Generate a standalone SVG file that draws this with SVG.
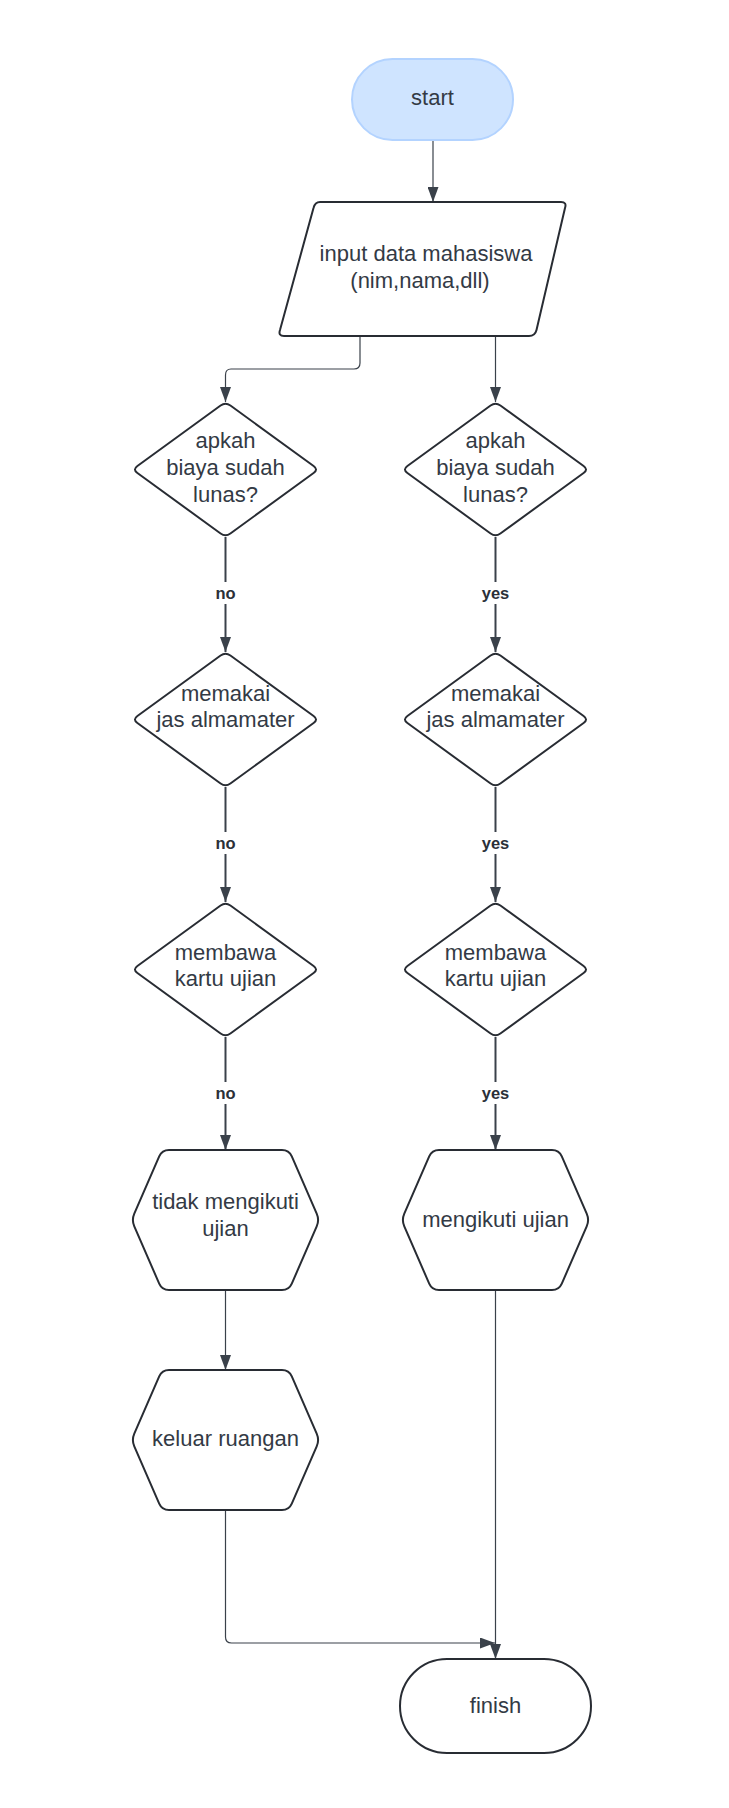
<svg xmlns="http://www.w3.org/2000/svg" width="729" height="1808" viewBox="0 0 729 1808">
<style>
.shape{fill:#ffffff;stroke:#282c33;stroke-width:2;stroke-linejoin:round}
.t{font-family:"Liberation Sans",Arial,sans-serif;font-size:22px;fill:#333a45;text-anchor:middle}
.lbl{font-family:"Liberation Sans",Arial,sans-serif;font-size:16.5px;font-weight:bold;fill:#2b3038;text-anchor:middle}
.c{fill:none;stroke:#3a414a;stroke-width:2}
.c1{fill:none;stroke:#3a414a;stroke-width:1.2}
</style>
<defs>
<marker id="ah" viewBox="0 0 15 11" refX="15" refY="5.5" markerWidth="15" markerHeight="11" markerUnits="userSpaceOnUse" orient="auto">
<path d="M0,0 L15,5.5 L0,11 Z" fill="#3a414a"/>
</marker>
</defs>
<rect width="729" height="1808" fill="#ffffff"/>
<g id="connectors">
<path class="c1" d="M433,140 V202" marker-end="url(#ah)"/>
<path class="c1" d="M360,336 V363 Q360,369 354,369 H231 Q225.5,369 225.5,375 V402" marker-end="url(#ah)"/>
<path class="c1" d="M495.5,336 V402" marker-end="url(#ah)"/>
<path class="c" d="M225.5,537 V652" marker-end="url(#ah)"/>
<path class="c" d="M495.5,537 V652" marker-end="url(#ah)"/>
<path class="c" d="M225.5,787 V902" marker-end="url(#ah)"/>
<path class="c" d="M495.5,787 V902" marker-end="url(#ah)"/>
<path class="c" d="M225.5,1037 V1150" marker-end="url(#ah)"/>
<path class="c" d="M495.5,1037 V1150" marker-end="url(#ah)"/>
<path class="c1" d="M225.5,1290 V1370" marker-end="url(#ah)"/>
<path class="c1" d="M225.5,1510 V1637 Q225.5,1643 231.5,1643 H495" marker-end="url(#ah)"/>
<path class="c1" d="M495.5,1290 V1659" marker-end="url(#ah)"/>
<rect x="210" y="582" width="31" height="22" fill="#ffffff"/>
<text class="lbl" x="225.5" y="599">no</text>
<rect x="478" y="582" width="35" height="22" fill="#ffffff"/>
<text class="lbl" x="495.5" y="599">yes</text>
<rect x="210" y="832" width="31" height="22" fill="#ffffff"/>
<text class="lbl" x="225.5" y="849">no</text>
<rect x="478" y="832" width="35" height="22" fill="#ffffff"/>
<text class="lbl" x="495.5" y="849">yes</text>
<rect x="210" y="1082" width="31" height="22" fill="#ffffff"/>
<text class="lbl" x="225.5" y="1099">no</text>
<rect x="478" y="1082" width="35" height="22" fill="#ffffff"/>
<text class="lbl" x="495.5" y="1099">yes</text>
</g>
<g id="start">
<rect x="352" y="59" width="161" height="81" rx="40.5" fill="#cfe4ff" stroke="#b3d3ff" stroke-width="2"/>
<text class="t" x="432.5" y="105">start</text>
</g>
<g id="input">
<path class="shape" d="M320,202 H561 Q567,202 565,208 L536.5,330 Q535,336 529,336 H284 Q278,336 280,330 L313.5,208 Q315,202 320,202 Z"/>
<text class="t" x="426" y="261">input data mahasiswa</text>
<text class="t" x="420" y="288">(nim,nama,dll)</text>
</g>
<g id="d1l">
<path class="shape" d="M220.6,405.5 Q225.5,402 230.4,405.5 L313.6,466 Q318.5,469.5 313.6,473 L230.4,533.5 Q225.5,537 220.6,533.5 L137.4,473 Q132.5,469.5 137.4,466 Z"/>
<text class="t" x="225.5" y="448">apkah</text>
<text class="t" x="225.5" y="475">biaya sudah</text>
<text class="t" x="225.5" y="502">lunas?</text>
</g>
<g id="d1r">
<path class="shape" d="M490.6,405.5 Q495.5,402 500.4,405.5 L583.6,466 Q588.5,469.5 583.6,473 L500.4,533.5 Q495.5,537 490.6,533.5 L407.4,473 Q402.5,469.5 407.4,466 Z"/>
<text class="t" x="495.5" y="448">apkah</text>
<text class="t" x="495.5" y="475">biaya sudah</text>
<text class="t" x="495.5" y="502">lunas?</text>
</g>
<g id="d2l">
<path class="shape" d="M220.6,655.5 Q225.5,652 230.4,655.5 L313.6,716 Q318.5,719.5 313.6,723 L230.4,783.5 Q225.5,787 220.6,783.5 L137.4,723 Q132.5,719.5 137.4,716 Z"/>
<text class="t" x="225.5" y="701">memakai</text>
<text class="t" x="225.5" y="727">jas almamater</text>
</g>
<g id="d2r">
<path class="shape" d="M490.6,655.5 Q495.5,652 500.4,655.5 L583.6,716 Q588.5,719.5 583.6,723 L500.4,783.5 Q495.5,787 490.6,783.5 L407.4,723 Q402.5,719.5 407.4,716 Z"/>
<text class="t" x="495.5" y="701">memakai</text>
<text class="t" x="495.5" y="727">jas almamater</text>
</g>
<g id="d3l">
<path class="shape" d="M220.6,905.5 Q225.5,902 230.4,905.5 L313.6,966 Q318.5,969.5 313.6,973 L230.4,1033.5 Q225.5,1037 220.6,1033.5 L137.4,973 Q132.5,969.5 137.4,966 Z"/>
<text class="t" x="225.5" y="960">membawa</text>
<text class="t" x="225.5" y="986">kartu ujian</text>
</g>
<g id="d3r">
<path class="shape" d="M490.6,905.5 Q495.5,902 500.4,905.5 L583.6,966 Q588.5,969.5 583.6,973 L500.4,1033.5 Q495.5,1037 490.6,1033.5 L407.4,973 Q402.5,969.5 407.4,966 Z"/>
<text class="t" x="495.5" y="960">membawa</text>
<text class="t" x="495.5" y="986">kartu ujian</text>
</g>
<g id="h1l">
<path class="shape" d="M169,1150 H282 Q289,1150 291.8,1156.4 L316.7,1213.6 Q319.5,1220 316.7,1226.4 L291.8,1283.6 Q289,1290 282,1290 H169 Q162,1290 159.2,1283.6 L134.3,1226.4 Q131.5,1220 134.3,1213.6 L159.2,1156.4 Q162,1150 169,1150 Z"/>
<text class="t" x="225.5" y="1209">tidak mengikuti</text>
<text class="t" x="225.5" y="1236">ujian</text>
</g>
<g id="h1r">
<path class="shape" d="M439,1150 H552 Q559,1150 561.8,1156.4 L586.7,1213.6 Q589.5,1220 586.7,1226.4 L561.8,1283.6 Q559,1290 552,1290 H439 Q432,1290 429.2,1283.6 L404.3,1226.4 Q401.5,1220 404.3,1213.6 L429.2,1156.4 Q432,1150 439,1150 Z"/>
<text class="t" x="495.5" y="1227">mengikuti ujian</text>
</g>
<g id="h2l">
<path class="shape" d="M169,1370 H282 Q289,1370 291.8,1376.4 L316.7,1433.6 Q319.5,1440 316.7,1446.4 L291.8,1503.6 Q289,1510 282,1510 H169 Q162,1510 159.2,1503.6 L134.3,1446.4 Q131.5,1440 134.3,1433.6 L159.2,1376.4 Q162,1370 169,1370 Z"/>
<text class="t" x="225.5" y="1446">keluar ruangan</text>
</g>
<g id="finish">
<rect class="shape" x="400" y="1659" width="191" height="94" rx="47"/>
<text class="t" x="495.5" y="1713">finish</text>
</g>
</svg>
